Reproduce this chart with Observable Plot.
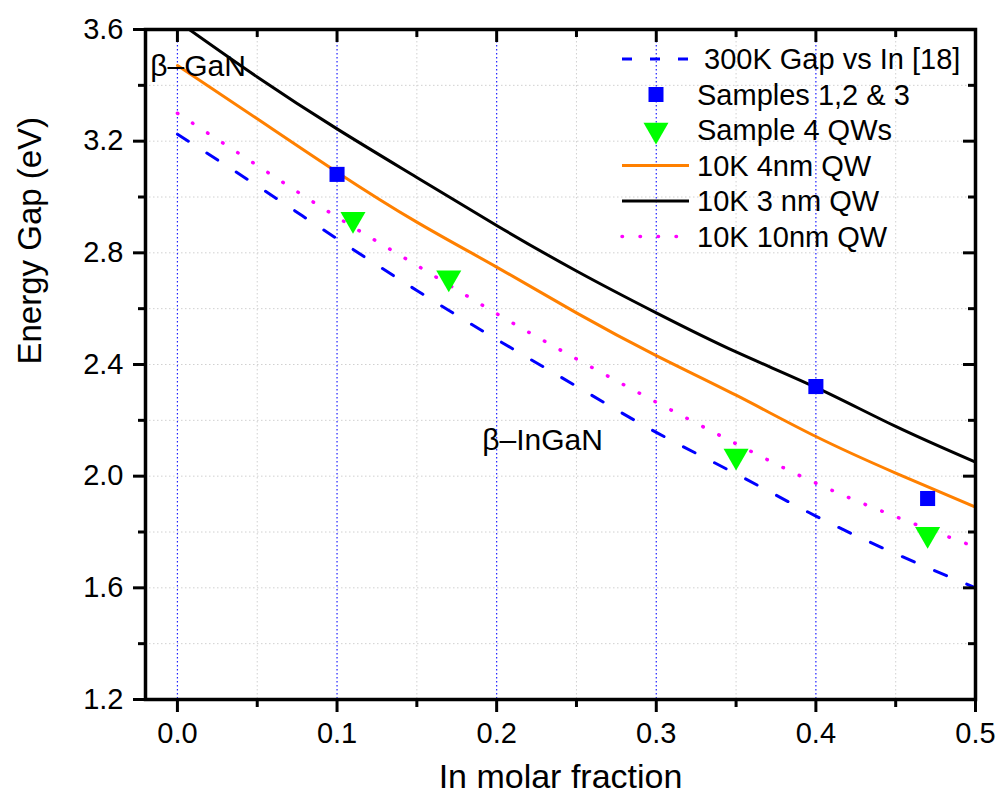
<!DOCTYPE html>
<html><head><meta charset="utf-8">
<script src="https://cdn.jsdelivr.net/npm/d3@7"></script>
<script src="https://cdn.jsdelivr.net/npm/@observablehq/plot@0.6"></script>
<style>
body{margin:0;background:#fff;}
#chart{width:1002px;height:800px;position:relative;}
</style></head><body><div id="chart"></div>
<script>
// ---- data ----
const inFraction = [0, 0.05, 0.1, 0.15, 0.2, 0.25, 0.3, 0.35, 0.4, 0.45, 0.5];
const gap300K   = [3.225, 3.04, 2.85, 2.665, 2.49, 2.322, 2.157, 2.008, 1.857, 1.722, 1.60];
const qw4nm10K  = [3.471, 3.28, 3.089, 2.91, 2.749, 2.585, 2.432, 2.29, 2.142, 2.011, 1.889];
const qw3nm10K  = [3.63, 3.43, 3.244, 3.07, 2.898, 2.735, 2.585, 2.445, 2.318, 2.178, 2.05];
const qw10nm10K = [3.30, 3.113, 2.928, 2.755, 2.582, 2.42, 2.265, 2.116, 1.975, 1.855, 1.746];
const samplesX = [0.1, 0.4, 0.47];
const samplesY = [3.081, 2.321, 1.92];
const qwSampleX = [0.11, 0.17, 0.35, 0.47];
const qwSampleY = [2.92, 2.711, 2.072, 1.792];
const xMajor = [0, 0.1, 0.2, 0.3, 0.4, 0.5];
const xMinor = [0.05, 0.15, 0.25, 0.35, 0.45];
const yMajor = [1.2, 1.6, 2.0, 2.4, 2.8, 3.2, 3.6];
const yMinor = [1.4, 1.8, 2.2, 2.6, 3.0, 3.4];
const yGrid = [1.4, 1.6, 1.8, 2.0, 2.2, 2.4, 2.6, 2.8, 3.0, 3.2, 3.4];
const annotationLabels = ["β–GaN", "β–InGaN"];
const annotationX = [-0.017, 0.191];
const annotationY = [3.433, 2.092];
const legendLabels = ["300K Gap vs In [18]", "Samples 1,2 & 3", "Sample 4 QWs", "10K 4nm QW", "10K 3 nm QW", "10K 10nm QW"];
const xLabel = "In molar fraction";
const yLabel = "Energy Gap (eV)";

// ---- tables ----
const toSeries = (ys) => inFraction.map((x, i) => ({x, y: ys[i]}));
const samples = samplesX.map((x, i) => ({x, y: samplesY[i]}));
const qwSamples = qwSampleX.map((x, i) => ({x, y: qwSampleY[i]}));
const annotations = annotationLabels.map((t, i) => ({t, x: annotationX[i], y: annotationY[i]}));

const W = 1002, H = 800, mL = 145, mR = 27, mT = 29, mB = 101;
const fw = W - mL - mR, fh = H - mT - mB;
const FONT = "'Liberation Sans', Arial, Helvetica, sans-serif";

const BLUE = "#0000ff", ORANGE = "#ff8000", MAGENTA = "#ff00ff", GREEN = "#00ff00";

const plot = Plot.plot({
  width: W, height: H,
  marginLeft: mL, marginRight: mR, marginTop: mT, marginBottom: mB,
  style: {fontFamily: FONT, fontSize: "29px", background: "#fff", color: "#000"},
  x: {domain: [-0.02, 0.5]},
  y: {domain: [1.2, 3.6]},
  marks: [
    Plot.ruleX(xMinor, {x: d => d, stroke: "#d0d0d0", strokeWidth: 1, strokeDasharray: "1.5,2.5"}),
    Plot.ruleY(yGrid, {y: d => d, stroke: "#d0d0d0", strokeWidth: 1, strokeDasharray: "1.5,2.5"}),
    Plot.ruleX(xMajor.filter(d => d < 0.5), {x: d => d, stroke: "#2020ff", strokeWidth: 1.2, strokeDasharray: "1.5,2.5"}),
    Plot.line(toSeries(gap300K), {x: "x", y: "y", stroke: BLUE, strokeWidth: 3, strokeDasharray: "13,22", curve: "natural", clip: true}),
    Plot.line(toSeries(qw10nm10K), {x: "x", y: "y", stroke: MAGENTA, strokeWidth: 3.5, strokeDasharray: "0.5,17.5", strokeLinecap: "round", curve: "natural", clip: true}),
    Plot.line(toSeries(qw4nm10K), {x: "x", y: "y", stroke: ORANGE, strokeWidth: 3, curve: "natural", clip: true}),
    Plot.line(toSeries(qw3nm10K), {x: "x", y: "y", stroke: "#000", strokeWidth: 3, curve: "natural", clip: true}),
    Plot.dot(samples, {x: "x", y: "y", symbol: "square", r: 8.5, fill: BLUE, stroke: "none"}),
    Plot.dot(qwSamples, {x: "x", y: "y", symbol: "triangle", r: 9.3, rotate: 180, fill: GREEN, stroke: "none"}),
    Plot.text(annotations, {x: "x", y: "y", text: "t", textAnchor: "start", lineAnchor: "bottom", fontSize: 30, fill: "#000"}),
    // axes: bottom & left (outward), top & right (inward)
    Plot.axisX(xMajor, {anchor: "bottom", tickSize: 13, tickPadding: 10, strokeWidth: 3, fontSize: 29, tickFormat: d3.format(".1f"), label: null}),
    Plot.axisX(xMinor, {anchor: "bottom", tickSize: 8, strokeWidth: 3, tickFormat: () => "", label: null}),
    Plot.axisY(yMajor, {anchor: "left", tickSize: 12, tickPadding: 10, strokeWidth: 3, fontSize: 29, tickFormat: d3.format(".1f"), label: null}),
    Plot.axisY(yMinor, {anchor: "left", tickSize: 7, strokeWidth: 3, tickFormat: () => "", label: null}),
    Plot.tickX(xMajor, {x: d => d, insetBottom: fh - 13, strokeWidth: 3}),
    Plot.tickX(xMinor, {x: d => d, insetBottom: fh - 8, strokeWidth: 3}),
    Plot.tickY(yMajor, {y: d => d, insetLeft: fw - 12, strokeWidth: 3}),
    Plot.tickY(yMinor, {y: d => d, insetLeft: fw - 7, strokeWidth: 3}),
    Plot.frame({stroke: "#000", strokeWidth: 3.5}),
    Plot.text([xLabel], {frameAnchor: "bottom", dy: 88, lineAnchor: "bottom", fontSize: 34, fill: "#000"}),
    Plot.text([yLabel], {frameAnchor: "left", dx: -105, rotate: -90, lineAnchor: "bottom", fontSize: 33, fill: "#000"})
  ]
});
document.getElementById("chart").appendChild(plot);

// ---- legend ----
const svg = d3.select(plot);
const lg = svg.append("g").attr("font-family", FONT).attr("font-size", 29).attr("text-anchor", "start");
const rowY0 = 59, rowStep = 35.5, sx0 = 622, sx1 = 689, sxc = 656, tx = 697;
const styles = [
  {type: "line", stroke: BLUE, dash: "10,18", w: 3},
  {type: "square"},
  {type: "triangle"},
  {type: "line", stroke: ORANGE, dash: null, w: 3},
  {type: "line", stroke: "#000", dash: null, w: 3},
  {type: "line", stroke: MAGENTA, dash: "0.5,17.5", w: 3.5, cap: "round"}
];
legendLabels.forEach((label, i) => {
  const cy = rowY0 + i * rowStep;
  const s = styles[i];
  if (s.type === "line") {
    lg.append("line").attr("x1", sx0).attr("x2", sx1).attr("y1", cy).attr("y2", cy)
      .attr("stroke", s.stroke).attr("stroke-width", s.w)
      .attr("stroke-dasharray", s.dash).attr("stroke-linecap", s.cap || null);
  } else if (s.type === "square") {
    lg.append("path").attr("d", d3.symbol(d3.symbolSquare, 225)()).attr("transform", `translate(${sxc},${cy})`).attr("fill", BLUE);
  } else {
    lg.append("path").attr("d", d3.symbol(d3.symbolTriangle, 270)()).attr("transform", `translate(${sxc},${cy}) rotate(180)`).attr("fill", GREEN);
  }
  lg.append("text").attr("x", i === 0 ? tx + 7 : tx).attr("y", cy + 10).attr("text-anchor", "start").attr("fill", "#000").text(label);
});
</script>
</body></html>
